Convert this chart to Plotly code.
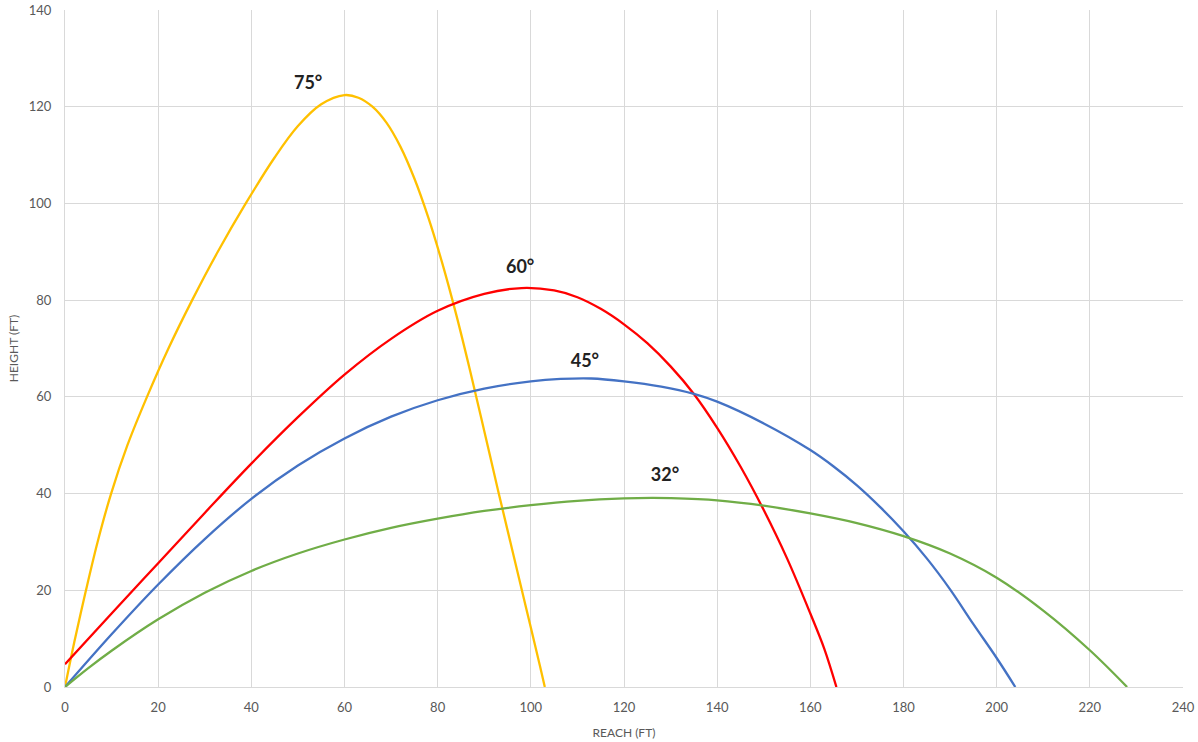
import plotly.graph_objects as go

# Trajectory data (REACH ft, HEIGHT ft)
x75 = [0, 2, 4.5, 7, 9.9, 13.4, 17.6, 22.2, 27.3, 32.8, 38.8, 45, 50, 55, 60, 63, 66, 69, 72, 75, 78, 81, 84, 87, 90, 93, 96, 99, 102, 103]
y75 = [0, 9.3, 20, 30, 40, 50, 60, 70, 80, 90, 100, 109.5, 116, 120.5, 122.4, 121.86, 120.0, 116.7, 111.75, 105.15, 97.05, 87.6, 76.95, 65.25, 52.95, 40.5, 28.4, 16.3, 4.2, 0]

x60 = [0, 10, 20, 30, 40, 50, 60, 70, 80, 90, 98, 105, 110, 115, 120, 125, 130, 135, 140, 145, 150, 155, 160, 163, 165.6]
y60 = [4.7, 15.2, 25.6, 36, 46.2, 55.8, 64.6, 72, 77.8, 81.3, 82.5, 82, 80.6, 78.2, 75.0, 71.1, 66.3, 60.6, 53.6, 45.6, 36.6, 26.6, 15.2, 7.9, 0]

x45 = [0, 10, 20, 30, 40, 50, 60, 70, 80, 90, 100, 106.4, 113, 120, 128, 135, 140, 150, 160, 165, 170, 175, 180, 185, 190, 195, 200, 204]
y45 = [0, 10.9, 21.2, 30.6, 38.9, 45.8, 51.4, 55.9, 59.3, 61.7, 63.2, 63.7, 63.8, 63.2, 62.1, 60.6, 59.0, 54.5, 49, 45.6, 41.7, 37.2, 32.2, 26.6, 20.2, 13.0, 6.0, 0]

x32 = [0, 5, 10, 20, 30, 40, 50, 60, 70, 80, 90, 100, 110, 120, 126, 130, 140, 150, 160, 170, 180, 190, 200, 210, 220, 228]
y32 = [0, 3.9, 7.5, 14.0, 19.5, 24.0, 27.6, 30.5, 32.9, 34.8, 36.4, 37.6, 38.5, 39.0, 39.1, 39.05, 38.6, 37.5, 35.9, 33.9, 31.2, 27.6, 22.6, 15.8, 7.6, 0]

labels = ["75°", "60°", "45°", "32°"]
label_x = [52.2, 97.7, 111.6, 128.8]
label_y = [124.5, 86.6, 67.2, 43.6]

x_ticks = list(range(0, 241, 20))
y_ticks = list(range(0, 141, 20))

series = [
    (x75, y75, "#FFC000"),
    (x60, y60, "#FF0000"),
    (x45, y45, "#4472C4"),
    (x32, y32, "#70AD47"),
]

fig = go.Figure()
for xs, ys, col in series:
    fig.add_trace(go.Scatter(x=xs, y=ys, mode="lines",
                             line=dict(color=col, width=2.3, shape="spline", smoothing=1.0),
                             showlegend=False, hoverinfo="skip", cliponaxis=True))

fig.add_trace(go.Scatter(x=label_x, y=label_y, mode="text", text=labels,
                         textfont=dict(family="Lato", size=18, color="#222222"),
                         texttemplate="<b>%{text}</b>",
                         showlegend=False, hoverinfo="skip", cliponaxis=False))

grid = "#D9D9D9"
tickfont = dict(family="Lato", size=13, color="#595959")
fig.update_layout(
    width=1198, height=742,
    margin=dict(l=65, r=15, t=10, b=55),
    paper_bgcolor="white", plot_bgcolor="white",
    xaxis=dict(range=[0, 240], tickvals=x_ticks, showgrid=True, gridcolor=grid, gridwidth=1,
               showline=True, linecolor=grid, linewidth=1, mirror=False, zeroline=False,
               tickfont=tickfont, ticks="", ticklabelstandoff=8, automargin=False,
               title=dict(text="REACH (FT)", font=dict(family="Lato", size=12, color="#595959"), standoff=15)),
    yaxis=dict(range=[0, 140], tickvals=y_ticks, showgrid=True, gridcolor=grid, gridwidth=1,
               showline=True, linecolor=grid, linewidth=1, zeroline=False,
               tickfont=tickfont, ticks="", ticklabelstandoff=10, automargin=False,
               title=dict(text="HEIGHT (FT)", font=dict(family="Lato", size=12, color="#595959"), standoff=7)),
)

fig.write_html("out.html", config={"displayModeBar": False},
               post_script="document.body.style.margin='0';document.body.style.overflow='hidden';")
